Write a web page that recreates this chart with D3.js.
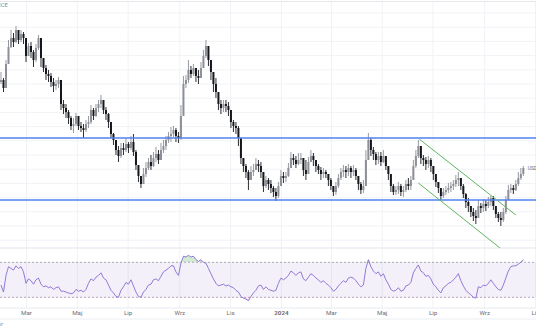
<!DOCTYPE html>
<html><head><meta charset="utf-8">
<script src="https://cdn.jsdelivr.net/npm/d3@7"></script>
<style>html,body{margin:0;padding:0;background:#fff;overflow:hidden}svg{display:block}</style>
</head><body>
<script>
// ---- DATA ----
const startDate = new Date(2023, 0, 30);   // first candle
const stepDays = 3;                         // 3D candles
const firstOpen = 111.8;
const closes = [
112.0,111.2,113.6,115.3,116.2,115.8,117.0,116.0,116.6,116.2,
114.4,115.4,114.8,114.0,115.2,116.2,114.2,113.2,112.6,112.4,
111.8,111.4,111.6,112.0,109.6,109.2,108.8,108.2,107.4,107.6,
108.4,107.4,107.2,107.0,107.6,107.8,109.0,108.4,109.2,109.6,
110.0,109.0,108.6,107.8,106.6,106.0,105.0,104.4,105.2,105.0,
105.6,105.2,105.8,104.8,103.5,102.4,101.6,102.6,103.2,103.8,
103.4,104.2,104.6,104.0,105.0,105.4,106.0,106.4,106.6,107.0,
106.4,106.2,108.4,111.6,112.0,113.0,112.6,113.2,112.4,112.2,
113.2,114.4,115.4,114.0,112.8,111.6,110.8,109.6,109.2,109.6,
109.4,109.0,107.8,107.4,107.2,106.2,104.2,103.4,102.8,102.0,
102.8,103.0,103.6,103.4,102.8,101.4,102.0,101.6,101.2,100.8,
100.4,101.4,102.4,102.2,102.4,103.2,104.2,104.0,103.6,104.0,
104.2,103.0,102.6,103.8,104.4,104.0,103.4,103.0,102.6,102.8,
102.6,102.0,101.4,100.8,101.4,102.2,102.8,103.0,102.8,103.2,
102.8,103.0,102.4,101.6,101.0,101.4,104.0,106.0,105.0,104.6,
104.0,104.4,103.8,104.4,103.4,102.6,101.4,100.8,101.0,101.4,
100.8,101.0,101.6,101.4,102.0,103.4,104.4,105.4,104.2,104.0,
103.6,104.0,103.4,102.6,101.8,101.2,100.4,100.8,101.0,101.2,
101.4,101.6,102.0,102.2,101.4,100.6,99.8,99.4,98.8,98.4,
98.2,99.4,99.2,99.6,99.4,99.8,100.2,99.4,98.6,98.2,
98.0,98.8,100.0,101.0,101.2,101.0,101.6,102.2,102.6,103.2];
const highs = [
112.8,112.2,114.0,116.0,117.0,116.7,117.4,116.8,117.0,116.8,
115.7,115.7,115.8,115.0,115.6,116.5,115.2,114.0,113.5,113.0,
112.7,112.2,112.0,112.3,111.4,110.0,109.6,109.0,108.4,108.2,
108.7,108.2,107.8,107.6,108.0,108.4,109.5,109.2,109.6,110.0,
110.5,110.0,109.3,108.7,107.6,106.7,105.8,105.4,105.7,105.7,
106.2,105.8,106.4,106.6,105.0,103.4,102.4,103.2,103.8,104.2,
104.5,104.8,105.3,105.0,105.7,106.0,106.4,106.8,107.3,107.4,
107.2,106.8,109.5,112.4,112.5,114.0,113.4,113.6,113.0,113.0,
113.8,115.0,116.0,114.8,113.8,112.6,112.2,110.4,110.0,110.0,
110.0,109.8,108.6,108.0,107.8,107.4,106.0,104.2,103.6,103.0,
103.4,103.6,104.2,104.0,103.8,102.4,102.4,102.2,102.0,101.4,
101.2,101.8,103.0,102.8,102.8,103.7,104.8,104.6,104.4,104.7,
104.7,104.0,104.0,104.3,105.0,104.7,104.0,103.6,103.3,103.2,
103.0,102.4,102.2,101.4,101.8,102.6,103.2,103.5,103.4,103.6,
103.4,103.5,103.2,102.4,101.8,102.0,105.0,106.7,106.2,105.3,
104.8,104.8,104.8,105.0,104.2,103.4,102.4,101.6,101.4,101.8,
101.6,101.4,102.0,102.2,102.4,104.0,105.0,106.0,105.0,104.5,
104.3,104.4,104.2,103.4,102.4,101.8,101.0,101.2,101.4,101.7,
101.8,102.0,102.5,102.8,102.0,101.6,100.7,100.2,99.4,99.2,
99.0,100.0,99.7,100.1,100.0,100.3,100.4,100.4,99.4,98.8,
98.8,99.2,100.4,101.5,101.6,101.5,102.0,102.8,103.2,103.4];
const lows = [
111.6,110.8,111.2,113.8,115.2,115.3,115.7,115.6,115.8,115.6,
113.8,114.5,114.2,113.3,113.8,115.0,113.3,112.8,112.0,111.8,
111.3,110.8,111.0,111.2,109.0,108.6,108.2,107.6,107.0,106.7,
107.4,107.0,106.8,106.2,106.8,107.2,107.6,108.0,108.3,108.8,
109.2,108.6,108.0,107.2,106.2,105.5,104.5,103.8,104.2,104.5,
104.8,104.7,105.0,104.4,103.0,101.8,101.2,101.8,102.3,103.0,
103.0,103.3,103.8,103.6,104.0,104.7,105.0,105.7,105.8,106.3,
105.8,105.7,106.0,108.8,111.2,111.7,112.2,112.4,111.8,111.6,
112.2,113.2,114.2,113.4,112.0,110.8,110.2,109.0,108.6,108.8,
108.8,108.4,107.2,106.8,106.6,105.4,103.6,102.8,102.2,101.0,
102.2,102.4,103.0,102.8,102.2,100.8,101.2,101.0,100.7,100.3,
99.9,100.2,101.6,101.7,101.8,102.3,103.6,103.5,103.2,103.5,
103.6,102.4,102.0,103.2,104.0,103.4,102.8,102.6,102.0,102.2,
102.2,101.4,101.0,100.4,100.5,101.2,102.0,102.3,102.2,102.4,
102.2,102.4,102.0,101.0,100.6,100.7,101.6,104.0,104.4,104.0,
103.5,103.6,103.4,103.7,103.0,102.0,100.8,100.5,100.5,100.6,
100.4,100.3,100.8,101.0,101.0,102.2,103.2,104.2,103.6,103.4,
103.0,103.2,102.8,102.0,101.3,100.7,100.0,100.2,100.5,100.7,
100.8,101.0,101.3,101.4,101.0,100.2,99.2,98.8,98.3,97.9,
97.6,98.6,98.7,98.8,98.9,99.2,99.4,99.0,98.2,97.8,
97.4,97.8,98.6,100.0,100.7,100.6,100.9,101.4,102.0,102.4];
const rsiValues = [
44,36,55,65,63,61,66,63,65,59,46,51,49,45,50,52,45,42,43,41,
42,39,41,42,37,37,36,35,34,35,39,37,38,36,39,46,51,49,53,55,
58,52,50,44,38,35,31,30,38,42,47,45,50,43,36,31,30,36,39,44,
45,50,51,49,54,59,61,63,66,66,59,55,69,77,76,78,76,77,73,71,
73,70,69,63,57,51,46,43,44,45,43,44,42,41,38,36,31,29,28,26,
31,35,38,43,44,39,42,39,38,37,38,46,52,50,52,55,60,58,55,58,
59,51,49,53,57,55,52,50,47,49,46,44,41,37,39,43,46,49,47,52,
53,52,49,45,42,44,63,73,65,60,57,59,54,57,50,45,39,37,38,41,
37,38,43,44,47,58,63,67,60,58,54,55,51,45,42,38,35,41,43,46,
47,50,53,57,49,43,38,35,33,30,29,42,41,44,43,46,50,46,42,39,
38,44,52,60,65,66,66,68,70,73];
const levels = [106.2, 100.0];                     // horizontal support/resistance
const channelUpper = [{d:"2024-06-15", v:106.1}, {d:"2024-10-09", v:98.5}];
const channelLower = [{d:"2024-06-14", v:101.7}, {d:"2024-09-20", v:95.2}];
const rsiBands = [70, 30];
const tickDates = ["2023-03-01","2023-05-01","2023-07-01","2023-09-01","2023-11-01","2024-01-01","2024-03-01","2024-05-01","2024-07-01","2024-09-01","2024-11-01"];
const tickLabels = ["Mar","Maj","Lip","Wrz","Lis","2024","Mar","Maj","Lip","Wrz","Lis"];

// ---- BUILD ----
const pd = s => { const [a,b,c] = s.split("-").map(Number); return new Date(a, b-1, c); };
const candles = closes.map((c,i) => {
  const open = i === 0 ? firstOpen : closes[i-1];
  return { date: d3.timeDay.offset(startDate, stepDays*i), open, close: c,
           high: Math.max(highs[i], open, c), low: Math.min(lows[i], open, c), rsi: rsiValues[i] };
});

const W = 536, H = 332;
const mainTop = 2, mainBottom = 248, rsiBottom = 308;
const font = "Roboto, 'Liberation Sans', sans-serif";
const svg = d3.select("body").append("svg").attr("width", W).attr("height", H);
const x = d3.scaleTime().domain([pd("2023-03-01"), pd("2024-11-01")]).range([26, 535]);
const y = d3.scaleLinear().domain([94.5, 120]).range([255, 0]);
const r = d3.scaleLinear().domain([30, 70]).range([297.3, 262.3]);

const defs = svg.append("defs");
defs.append("clipPath").attr("id","mainClip").append("rect").attr("x",0).attr("y",mainTop).attr("width",W).attr("height",mainBottom-mainTop);
defs.append("clipPath").attr("id","rsiClip").append("rect").attr("x",0).attr("y",mainBottom).attr("width",W).attr("height",rsiBottom-mainBottom);
defs.append("clipPath").attr("id","obClip").append("rect").attr("x",0).attr("y",mainBottom).attr("width",W).attr("height",r(70)-mainBottom);
defs.append("clipPath").attr("id","osClip").append("rect").attr("x",0).attr("y",r(30)).attr("width",W).attr("height",rsiBottom-r(30));

// vertical grid via axis
const gx = svg.append("g").attr("transform", `translate(0,${rsiBottom})`)
  .call(d3.axisBottom(x).tickValues(tickDates.map(pd)).tickSize(-(rsiBottom-mainTop)).tickFormat(""));
gx.select(".domain").remove();
gx.selectAll("line").attr("stroke","#f0f2f6").attr("stroke-width",1);

// horizontal grid main pane
const gridVals = d3.range(118.75, 95, -1.42);
const gy = svg.append("g")
  .call(d3.axisRight(y).tickValues(gridVals).tickSize(W).tickFormat(""));
gy.select(".domain").remove();
gy.selectAll("line").attr("stroke","#f0f2f6").attr("stroke-width",1);

// borders / separators
[[mainTop-0.5,"#e6e8ee"],[mainBottom,"#e3e5ea"],[rsiBottom,"#e8eaef"],[319,"#eceef2"]].forEach(([yy,c]) =>
  svg.append("line").attr("x1",0).attr("x2",W).attr("y1",yy).attr("y2",yy).attr("stroke",c).attr("stroke-width",1));

// main pane
const main = svg.append("g").attr("clip-path","url(#mainClip)");
const upCol = "#8c8f96", dnCol = "#15171c";
const cg = main.append("g");
cg.selectAll("line.wick").data(candles).join("line").attr("class","wick")
  .attr("x1", d => x(d.date)).attr("x2", d => x(d.date))
  .attr("y1", d => y(d.high)).attr("y2", d => y(d.low))
  .attr("stroke", d => d.close >= d.open ? upCol : dnCol).attr("stroke-width", 0.9);
cg.selectAll("rect.body").data(candles).join("rect").attr("class","body")
  .attr("x", d => x(d.date) - 1).attr("width", 2)
  .attr("y", d => y(Math.max(d.open, d.close)))
  .attr("height", d => Math.max(0.8, Math.abs(y(d.open) - y(d.close))))
  .attr("fill", d => d.close >= d.open ? upCol : dnCol);

// horizontal levels
main.selectAll("line.level").data(levels).join("line").attr("class","level")
  .attr("x1",0).attr("x2",W).attr("y1", d => y(d)).attr("y2", d => y(d))
  .attr("stroke","#4f82f2").attr("stroke-width",1.4);

// channel
const chLine = d3.line().x(p => x(pd(p.d))).y(p => y(p.v));
[channelUpper, channelLower].forEach(ch =>
  main.append("path").attr("d", chLine(ch)).attr("fill","none").attr("stroke","#5fb55f").attr("stroke-width",1));

// last price label
const last = candles[candles.length-1];
svg.append("text").attr("x", x(last.date)+4.5).attr("y", y(last.close)+1.5)
  .attr("font-family",font).attr("font-size",5).attr("fill","#6b6e78").text("USD");

// RSI pane
const rsiG = svg.append("g").attr("clip-path","url(#rsiClip)");
rsiG.append("rect").attr("x",0).attr("width",W).attr("y",r(70)).attr("height",r(30)-r(70))
  .attr("fill","#7e57c2").attr("fill-opacity",0.09);
rsiG.selectAll("line.band").data(rsiBands).join("line").attr("class","band")
  .attr("x1",0).attr("x2",W).attr("y1",d=>r(d)).attr("y2",d=>r(d))
  .attr("stroke","#9e98ad").attr("stroke-width",0.8).attr("stroke-dasharray","2,2");
const ob = d3.area().x(d => x(d.date)).y0(r(70)).y1(d => r(d.rsi));
rsiG.append("path").attr("d", ob(candles)).attr("clip-path","url(#obClip)").attr("fill","#4caf50").attr("fill-opacity",0.25);
const os = d3.area().x(d => x(d.date)).y0(r(30)).y1(d => r(d.rsi));
rsiG.append("path").attr("d", os(candles)).attr("clip-path","url(#osClip)").attr("fill","#f23645").attr("fill-opacity",0.15);
rsiG.append("path").attr("d", d3.line().x(d => x(d.date)).y(d => r(d.rsi))(candles))
  .attr("fill","none").attr("stroke","#8a6bd1").attr("stroke-width",0.9);

// time axis labels
const ax = svg.append("g").attr("transform",`translate(0,${rsiBottom})`)
  .call(d3.axisBottom(x).tickValues(tickDates.map(pd)).tickSize(0).tickPadding(3).tickFormat((d,i) => tickLabels[i]));
ax.select(".domain").remove();
ax.selectAll("text").attr("font-family",font).attr("font-size",6.2).attr("fill","#6b6e78")
  .attr("font-weight",(d,i) => tickLabels[i] === "2024" ? "bold" : "normal");

// cut-off corner texts (cut by the frame in the reference as well)
svg.append("text").attr("x",8).attr("y",7).attr("text-anchor","end")
  .attr("font-family",font).attr("font-size",6).attr("fill","#8a8d96").text("PRICE");
svg.append("text").attr("x",3).attr("y",326).attr("text-anchor","end")
  .attr("font-family",font).attr("font-size",6).attr("fill","#8a8d96").text("Indicator");
</script>
</body></html>
